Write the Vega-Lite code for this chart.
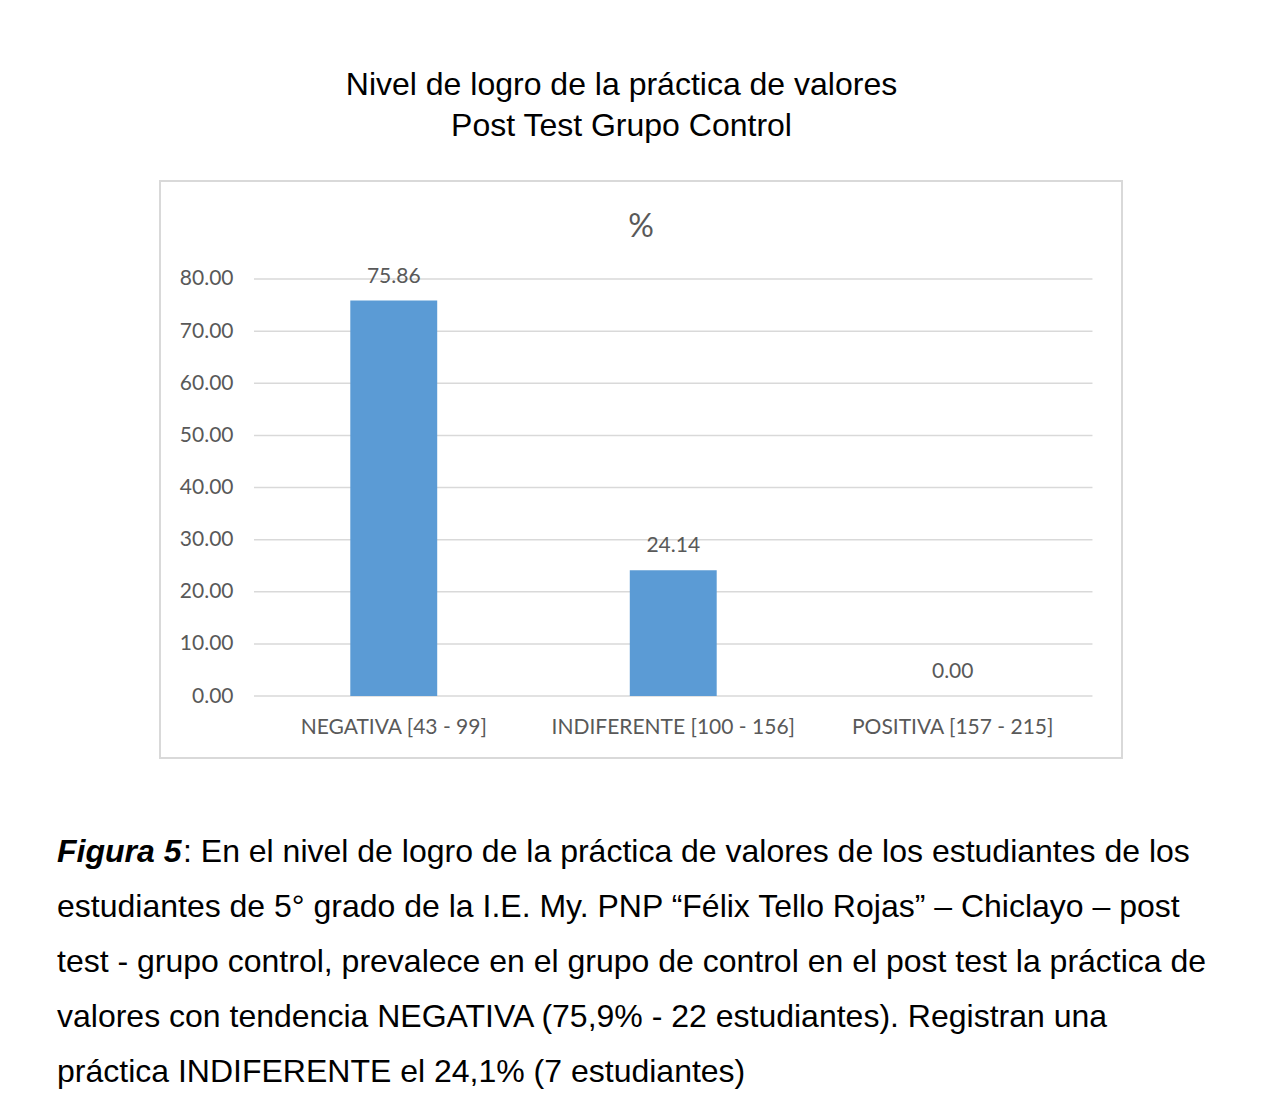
{
  "$schema": "https://vega.github.io/schema/vega-lite/v6.json",
  "background": "white",
  "padding": {"left": 57, "top": 69, "right": 0, "bottom": 0},
  "title": {
    "text": ["Nivel de logro de la práctica de valores", "Post Test Grupo Control"],
    "font": "Liberation Sans",
    "fontSize": 32,
    "fontWeight": "normal",
    "color": "#000000",
    "lineHeight": 41,
    "anchor": "middle",
    "dx": -20,
    "offset": 37
  },
  "center": true,
  "spacing": 65,
  "vconcat": [
    {
      "width": 962,
      "height": 577,
      "view": {"stroke": "#D9D9D9", "strokeWidth": 2},
      "title": {
        "text": "%",
        "font": "Lato",
        "fontSize": 32,
        "fontWeight": "normal",
        "color": "#595959",
        "anchor": "middle",
        "offset": -63
      },
      "layer": [
        {
          "data": {"values": [
            {"nivel": "NEGATIVA [43 - 99]", "nivel2": "POSITIVA [157 - 215]", "pct": 0},
            {"nivel": "NEGATIVA [43 - 99]", "nivel2": "POSITIVA [157 - 215]", "pct": 10},
            {"nivel": "NEGATIVA [43 - 99]", "nivel2": "POSITIVA [157 - 215]", "pct": 20},
            {"nivel": "NEGATIVA [43 - 99]", "nivel2": "POSITIVA [157 - 215]", "pct": 30},
            {"nivel": "NEGATIVA [43 - 99]", "nivel2": "POSITIVA [157 - 215]", "pct": 40},
            {"nivel": "NEGATIVA [43 - 99]", "nivel2": "POSITIVA [157 - 215]", "pct": 50},
            {"nivel": "NEGATIVA [43 - 99]", "nivel2": "POSITIVA [157 - 215]", "pct": 60},
            {"nivel": "NEGATIVA [43 - 99]", "nivel2": "POSITIVA [157 - 215]", "pct": 70},
            {"nivel": "NEGATIVA [43 - 99]", "nivel2": "POSITIVA [157 - 215]", "pct": 80}
          ]},
          "mark": {"type": "rule", "color": "#D9D9D9", "strokeWidth": 1.5},
          "encoding": {
            "x": {
              "field": "nivel", "type": "nominal", "bandPosition": 0, "sort": null,
              "scale": {"domain": ["NEGATIVA [43 - 99]", "INDIFERENTE [100 - 156]", "POSITIVA [157 - 215]"], "paddingInner": 0, "paddingOuter": 0.221, "align": 0.761},
              "axis": {"orient": "bottom", "offset": -62, "domain": false, "ticks": false, "grid": false, "labelAngle": 0, "labelFont": "Lato", "labelFontSize": 21, "labelColor": "#595959", "labelPadding": 20, "labelLimit": 0, "title": null}
            },
            "x2": {"field": "nivel2", "bandPosition": 1},
            "y": {
              "field": "pct", "type": "quantitative",
              "scale": {"domain": [-11.89, 98.8], "nice": false, "zero": false},
              "axis": {"values": [0, 10, 20, 30, 40, 50, 60, 70, 80], "format": ".2f", "offset": -94, "domain": false, "ticks": false, "grid": false, "labelFont": "Lato", "labelFontSize": 21, "labelColor": "#595959", "labelPadding": 21, "title": null}
            }
          }
        },
        {
          "data": {"values": [
            {"nivel": "NEGATIVA [43 - 99]", "pct": 75.86},
            {"nivel": "INDIFERENTE [100 - 156]", "pct": 24.14},
            {"nivel": "POSITIVA [157 - 215]", "pct": 0.0}
          ]},
          "layer": [
            {
              "mark": {"type": "bar", "color": "#5B9BD5", "width": {"band": 0.311}},
              "encoding": {
                "x": {
                  "field": "nivel", "type": "nominal", "sort": null,
                  "scale": {"domain": ["NEGATIVA [43 - 99]", "INDIFERENTE [100 - 156]", "POSITIVA [157 - 215]"], "paddingInner": 0, "paddingOuter": 0.221, "align": 0.761},
                  "axis": {"orient": "bottom", "offset": -62, "domain": false, "ticks": false, "grid": false, "labelAngle": 0, "labelFont": "Lato", "labelFontSize": 21, "labelColor": "#595959", "labelPadding": 20, "labelLimit": 0, "title": null}
                },
                "y": {
                  "field": "pct", "type": "quantitative",
                  "scale": {"domain": [-11.89, 98.8], "nice": false, "zero": false},
                  "axis": {"values": [0, 10, 20, 30, 40, 50, 60, 70, 80], "format": ".2f", "offset": -94, "domain": false, "ticks": false, "grid": false, "labelFont": "Lato", "labelFontSize": 21, "labelColor": "#595959", "labelPadding": 21, "title": null}
                },
                "y2": {"datum": 0}
              }
            },
            {
              "mark": {"type": "text", "font": "Lato", "fontSize": 21, "color": "#595959", "baseline": "bottom", "dy": -14},
              "encoding": {
                "x": {"field": "nivel", "type": "nominal", "sort": null},
                "y": {"field": "pct", "type": "quantitative"},
                "text": {"field": "pct", "type": "quantitative", "format": ".2f"}
              }
            }
          ]
        }
      ]
    },
    {
      "width": 1169,
      "height": 275,
      "view": {"stroke": null},
      "data": {"values": [
        {"linea": 1, "parte": "etiqueta", "texto": "Figura 5"},
        {"linea": 1, "parte": "resto", "texto": ": En el nivel de logro de la práctica de valores de los estudiantes de los"},
        {"linea": 2, "parte": "linea", "texto": "estudiantes de 5° grado de la I.E. My. PNP “Félix Tello Rojas” – Chiclayo – post"},
        {"linea": 3, "parte": "linea", "texto": "test - grupo control, prevalece en el grupo de control en el post test la práctica de"},
        {"linea": 4, "parte": "linea", "texto": "valores con tendencia NEGATIVA (75,9% - 22 estudiantes). Registran una"},
        {"linea": 5, "parte": "linea", "texto": "práctica INDIFERENTE el 24,1% (7 estudiantes)"}
      ]},
      "encoding": {
        "x": {"datum": 0, "type": "quantitative", "scale": {"domain": [0, 1]}, "axis": null},
        "y": {"field": "linea", "type": "ordinal", "scale": {"type": "point", "padding": 0.5}, "axis": null},
        "text": {"field": "texto"}
      },
      "layer": [
        {
          "transform": [{"filter": "datum.parte == 'linea'"}],
          "mark": {"type": "text", "align": "left", "baseline": "middle", "font": "Liberation Sans", "fontSize": 32, "color": "#000000"}
        },
        {
          "transform": [{"filter": "datum.parte == 'etiqueta'"}],
          "mark": {"type": "text", "align": "left", "baseline": "middle", "font": "Liberation Sans", "fontSize": 32, "fontWeight": "bold", "fontStyle": "italic", "color": "#000000"}
        },
        {
          "transform": [{"filter": "datum.parte == 'resto'"}],
          "mark": {"type": "text", "align": "left", "baseline": "middle", "font": "Liberation Sans", "fontSize": 32, "color": "#000000", "dx": 126}
        }
      ]
    }
  ]
}
